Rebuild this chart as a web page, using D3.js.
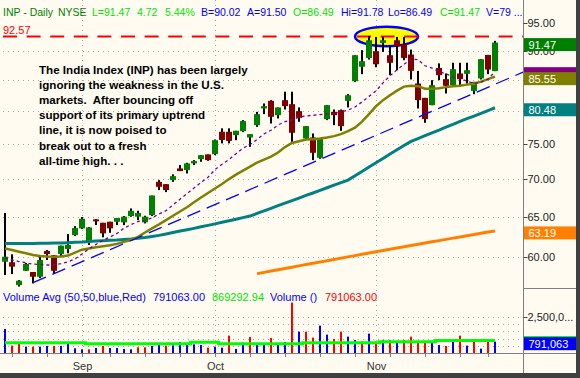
<!DOCTYPE html>
<html>
<head>
<meta charset="utf-8">
<script src="https://cdn.jsdelivr.net/npm/d3@7"></script>
<style>
  body { margin: 0; background: #fffbf0; }
  svg { display: block; font-family: "Liberation Sans", Arial, sans-serif; }
</style>
</head>
<body>
<div id="container"></div>
<script>
// INP daily, Aug 17 - Nov 27 2007
var dates = ['8/17','8/20','8/21','8/22','8/23','8/24','8/27','8/28','8/29','8/30','8/31',
    '9/4','9/5','9/6','9/7','9/10','9/11','9/12','9/13','9/14','9/17','9/18','9/19','9/20','9/21',
    '9/24','9/25','9/26','9/27','9/28',
    '10/1','10/2','10/3','10/4','10/5','10/8','10/9','10/10','10/11','10/12','10/15','10/16','10/17',
    '10/18','10/19','10/22','10/23','10/24','10/25','10/26','10/29','10/30','10/31',
    '11/1','11/2','11/5','11/6','11/7','11/8','11/9','11/12','11/13','11/14','11/15','11/16',
    '11/19','11/20','11/21','11/23','11/26','11/27'];

var open = [59.48, 59.42, 56.82, 58.43, 58.29, 57.75, 60.75, 60.24, 60.39, 60.99,
    62.68, 63.51, 61.86, 64.64, 64.21, 64.34, 64.34, 64.26, 65.06, 64.98,
    64.26, 65.19, 69.58, 69.27, 69.82, 71.44, 71.21, 72.15, 72.76, 73.43,
    73.48, 76.77, 76.77, 76.27, 76.87, 75.92, 77.78, 80.37, 81.58, 79.32,
    81.69, 81.05, 79.95, 75.77, 75.92, 72.95, 78.71, 79.84, 80.10, 81.58,
    84.79, 87.23, 88.75, 89.93, 91.41, 89.23, 91.89, 91.18, 89.35, 84.41,
    82.06, 80.89, 87.03, 85.13, 84.13, 86.09, 86.03, 83.19, 85.25, 89.28,
    86.49];
var high = [65.45, 60.35, 57.38, 59.33, 58.29, 60.25, 60.87, 60.27, 61.39, 62.80,
    63.79, 64.93, 63.67, 64.68, 64.21, 64.34, 64.81, 65.06, 66.04, 65.74,
    65.10, 67.74, 69.82, 69.27, 70.61, 71.91, 72.24, 72.62, 73.33, 73.43,
    75.62, 77.29, 77.29, 76.92, 78.55, 76.42, 79.83, 81.16, 81.69, 80.53,
    83.06, 83.06, 80.53, 77.63, 76.52, 75.77, 80.89, 80.21, 80.21, 82.66,
    89.23, 90.11, 92.62, 92.49, 92.49, 90.82, 92.49, 92.49, 90.23, 86.52,
    82.06, 84.96, 87.81, 86.09, 87.92, 87.92, 87.92, 84.68, 88.53, 89.28,
    91.78];
var low = [57.95, 58.06, 56.65, 58.40, 57.00, 57.60, 59.68, 58.17, 60.04, 60.47,
    62.56, 63.42, 61.47, 63.92, 62.40, 62.96, 63.92, 63.92, 64.98, 64.55,
    64.13, 65.06, 68.47, 68.20, 69.58, 71.07, 70.74, 71.91, 72.38, 72.52,
    73.33, 75.04, 75.04, 75.52, 76.72, 74.54, 77.52, 79.48, 78.03, 78.81,
    80.21, 75.27, 78.29, 75.52, 72.62, 72.81, 78.55, 77.78, 76.92, 80.53,
    84.68, 85.97, 88.47, 87.14, 89.81, 85.80, 86.64, 88.36, 85.08, 80.37,
    78.14, 80.89, 84.96, 82.77, 83.86, 84.13, 84.41, 82.66, 85.08, 85.97,
    86.49];
var close = [60.07, 58.91, 57.30, 59.22, 57.75, 59.68, 60.39, 58.43, 61.39, 61.47,
    63.55, 64.71, 63.63, 64.39, 62.89, 63.51, 64.81, 64.98, 65.74, 65.45,
    64.98, 67.74, 68.91, 68.47, 70.37, 71.07, 72.15, 72.48, 73.33, 72.62,
    75.52, 75.55, 75.41, 76.92, 78.40, 76.42, 79.48, 80.74, 79.06, 80.53,
    80.74, 76.62, 78.91, 77.63, 73.67, 75.77, 80.89, 79.32, 77.63, 82.49,
    89.23, 88.19, 91.89, 87.66, 91.89, 87.91, 90.82, 88.75, 86.53, 81.69,
    78.71, 84.13, 85.80, 84.03, 86.81, 85.13, 86.64, 84.68, 88.53, 86.75,
    91.47];

var volume = [1655000, 522000, 726000, 454000, 454000, 454000, 499000, 499000, 499000, 680000,
    340000, 272000, 272000, 363000, 499000, 363000, 363000, 295000, 272000, 408000,
    408000, 499000, 658000, 522000, 544000, 771000, 612000, 612000, 567000, 385000,
    454000, 385000, 1202000, 295000, 726000, 1111000, 658000, 612000, 1043000, 567000,
    771000, 3447000, 1474000, 1474000, 1066000, 1882000, 1270000, 975000, 1474000, 1134000,
    907000, 794000, 1338000, 726000, 907000, 907000, 839000, 907000, 1134000, 771000,
    726000, 748000, 567000, 499000, 862000, 1202000, 522000, 771000, 317000, 794000,
    791063];
var volumeAvg = [726000, 726000, 726000, 726000, 726000, 726000, 726000, 726000, 726000, 726000,
    726000, 726000, 658000, 658000, 658000, 658000, 658000, 658000, 658000, 658000,
    658000, 658000, 658000, 658000, 658000, 658000, 658000, 748000, 748000, 748000,
    748000, 658000, 658000, 658000, 658000, 658000, 658000, 658000, 658000, 658000,
    658000, 658000, 658000, 726000, 726000, 726000, 726000, 726000, 726000, 726000,
    726000, 726000, 726000, 726000, 794000, 794000, 794000, 794000, 794000, 794000,
    794000, 794000, 869292.94, 869292.94, 869292.94, 869292.94, 869292.94, 869292.94, 869292.94, 869292.94,
    869292.94];

// moving averages as drawn on the chart
var sma10 = [59.90, 59.70, 59.50, 59.35, 59.20, 59.15, 59.10, 59.10, 59.25, 59.46,
    59.81, 60.39, 61.02, 61.54, 62.05, 62.44, 62.88, 63.53, 63.97, 64.37,
    64.51, 64.81, 65.34, 65.75, 66.50, 67.25, 67.99, 68.74, 69.50, 70.21,
    71.27, 72.04, 72.69, 73.54, 74.34, 74.88, 75.61, 76.44, 77.01, 77.80,
    78.32, 78.60, 79.00, 79.20, 79.30, 79.40, 79.50, 79.60, 79.80, 80.10,
    80.60, 81.40, 82.30, 83.20, 84.50, 85.71, 86.70, 87.65, 88.54, 88.46,
    87.40, 87.00, 86.39, 86.03, 85.52, 85.24, 84.82, 84.42, 84.62, 85.11,
    86.39];
var sma20 = [61.05, 60.87, 60.66, 60.47, 60.27, 60.15, 60.09, 60.07, 60.09, 60.20,
    60.55, 60.90, 61.05, 61.20, 61.32, 61.44, 61.60, 61.85, 62.10, 62.45,
    63.00, 63.50, 64.00, 64.55, 65.10, 65.65, 66.20, 66.85, 67.47, 68.07,
    68.68, 69.30, 69.96, 70.58, 71.14, 71.70, 72.26, 72.69, 73.12, 73.70,
    74.50, 75.10, 75.37, 75.60, 75.67, 75.75, 75.90, 76.12, 76.42, 76.87,
    77.40, 78.32, 79.48, 80.73, 81.69, 82.49, 83.23, 83.89, 84.05, 83.97,
    83.56, 83.56, 83.64, 83.81, 83.97, 84.05, 84.22, 84.38, 84.71, 85.13,
    85.55];
var sma50 = [61.65, 61.65, 61.65, 61.65, 61.65, 61.67, 61.69, 61.71, 61.71, 61.75,
    61.80, 61.83, 61.89, 61.95, 61.99, 62.04, 62.07, 62.13, 62.19, 62.28,
    62.37, 62.50, 62.64, 62.80, 62.99, 63.17, 63.34, 63.51, 63.70, 63.88,
    64.07, 64.27, 64.46, 64.65, 64.86, 65.06, 65.40, 65.72, 66.06, 66.40,
    66.73, 67.06, 67.40, 67.75, 68.08, 68.43, 68.78, 69.13, 69.47, 69.82,
    70.41, 71.00, 71.63, 72.24, 72.86, 73.48, 74.10, 74.73, 75.34, 75.76,
    76.19, 76.62, 77.02, 77.46, 77.90, 78.34, 78.77, 79.16, 79.61, 80.04,
    80.48];
var sma200 = [null, null, null, null, null, null, null, null, null, null,
    null, null, null, null, null, null, null, null, null, null,
    null, null, null, null, null, null, null, null, null, null,
    null, null, null, null, null, null, 58.10, 58.25, 58.40, 58.55,
    58.70, 58.85, 59.00, 59.15, 59.30, 59.45, 59.60, 59.75, 59.90, 60.05,
    60.20, 60.35, 60.50, 60.65, 60.80, 60.95, 61.10, 61.25, 61.40, 61.55,
    61.70, 61.85, 62.00, 62.15, 62.30, 62.45, 62.60, 62.75, 62.90, 63.05,
    63.19];

var priceTicks = [60, 65, 70, 75, 80, 85, 90, 95];
var priceLabels = [60, 65, 70, 75, 90, 95];   // 80 and 85 sit under the value boxes
var volumeGrid = [500000, 1000000, 1500000, 2000000, 2500000];
var volumeLabels = [2500000];
var resistance = 92.57;
var trendline = [[4, 57.08], [74, 86.3]];  // [bar, price]
var bid = 90.02, ask = 91.50;
var note = ['The India Index (INP) has been largely',
    'ignoring the weakness in the U.S.',
    'markets.  After bouncing off',
    'support of its primary uptrend',
    'line, it is now poised to',
    'break out to a fresh',
    'all-time high. . .'];

var width = 580,
    height = 378,
    axisX = 523.5,
    n = close.length,
    f2 = d3.format('.2f'),
    lime = '#00e400',
    blue = '#0000ff';

var parseDay = d3.timeParse('%Y/%m/%d');
var days = dates.map(function(s) { return parseDay('2007/' + s); });

var svg = d3.select('#container')
    .append('svg')
    .attr('width', width)
    .attr('height', height);
svg.append('rect').attr('width', width).attr('height', height).attr('fill', '#fffbf0');

var x = d3.scaleLinear().domain([0, n - 1]).range([5, 5 + 7 * (n - 1)]);
var y = d3.scaleLog().domain([60, 95]).range([257.3, 23.3]);
var yv = d3.scaleLinear().domain([0, 2500000]).range([353.3, 316.55]);

svg.append('clipPath').attr('id', 'plotClip')
    .append('rect').attr('x', 0).attr('y', 0).attr('width', axisX).attr('height', 354);

var plot = svg.append('g').attr('clip-path', 'url(#plotClip)');

// grid
plot.selectAll('.hgrid')
    .data(priceTicks.filter(function(d) { return d < 95; }))
    .enter().append('line')
    .attr('x1', 3).attr('x2', axisX)
    .attr('y1', function(d) { return Math.round(y(d)) + 0.5; })
    .attr('y2', function(d) { return Math.round(y(d)) + 0.5; })
    .attr('stroke', '#a8a8a8').attr('stroke-dasharray', '1,4');
plot.selectAll('.vgrid')
    .data(volumeGrid)
    .enter().append('line')
    .attr('x1', 3).attr('x2', axisX)
    .attr('y1', function(d) { return Math.round(yv(d)) + 0.5; })
    .attr('y2', function(d) { return Math.round(yv(d)) + 0.5; })
    .attr('stroke', '#a8a8a8').attr('stroke-dasharray', '1,4');

var monthStarts = d3.range(1, n).filter(function(i) {
    return days[i].getMonth() !== days[i - 1].getMonth();
});
var weekStarts = d3.range(1, n).filter(function(i) {
    return days[i].getDay() < days[i - 1].getDay();
});
plot.selectAll('.mgrid')
    .data(monthStarts)
    .enter().append('line')
    .attr('x1', function(i) { return Math.round(x(i)) + 0.5; })
    .attr('x2', function(i) { return Math.round(x(i)) + 0.5; })
    .attr('y1', 0).attr('y2', 353)
    .attr('stroke', '#a8a8a8').attr('stroke-dasharray', '1,4');

// annotation: ellipse round the highs + resistance line
plot.append('ellipse')
    .attr('cx', (x(50) + x(59)) / 2)
    .attr('cy', y(resistance))
    .attr('rx', (x(59) - x(50)) / 2)
    .attr('ry', 9.7)
    .attr('fill', '#ffff00')
    .attr('stroke', blue)
    .attr('stroke-width', 2.5);
plot.append('line')
    .attr('x1', 3).attr('x2', axisX)
    .attr('y1', y(resistance)).attr('y2', y(resistance))
    .attr('stroke', '#ff0000').attr('stroke-width', 2)
    .attr('stroke-dasharray', '14,9.6');

// candles
var bars = d3.range(n);
plot.selectAll('.wick')
    .data(bars)
    .enter().append('rect')
    .attr('x', function(i) { return x(i) - 1; })
    .attr('width', 2)
    .attr('y', function(i) { return y(high[i]); })
    .attr('height', function(i) { return Math.max(1, y(low[i]) - y(high[i])); })
    .attr('fill', '#000');
plot.selectAll('.body')
    .data(bars)
    .enter().append('rect')
    .attr('x', function(i) { return x(i) - 3; })
    .attr('width', 6)
    .attr('y', function(i) { return y(Math.max(open[i], close[i])); })
    .attr('height', function(i) { return Math.max(1.5, Math.abs(y(open[i]) - y(close[i]))); })
    .attr('fill', function(i) { return close[i] >= open[i] ? '#008000' : '#800000'; });

// moving averages
var maLine = d3.line()
    .defined(function(d) { return d != null; })
    .x(function(d, i) { return x(i); })
    .y(function(d) { return y(d); });
plot.append('path').attr('d', maLine(sma50))
    .attr('fill', 'none').attr('stroke', '#008080').attr('stroke-width', 3);
plot.append('path').attr('d', maLine(sma200))
    .attr('fill', 'none').attr('stroke', '#ff8000').attr('stroke-width', 3);
plot.append('path').attr('d', maLine(sma20))
    .attr('fill', 'none').attr('stroke', '#808000').attr('stroke-width', 2.5);
plot.append('path').attr('d', maLine(sma10))
    .attr('fill', 'none').attr('stroke', '#800080').attr('stroke-width', 1.3)
    .attr('stroke-dasharray', '3,3');

// uptrend line
plot.append('line')
    .attr('x1', x(trendline[0][0])).attr('y1', y(trendline[0][1]))
    .attr('x2', x(trendline[1][0])).attr('y2', y(trendline[1][1]))
    .attr('stroke', blue).attr('stroke-width', 1.3)
    .attr('stroke-dasharray', '14,7');

// volume
plot.selectAll('.vol')
    .data(bars)
    .enter().append('rect')
    .attr('x', function(i) { return x(i) - 1; })
    .attr('width', 2)
    .attr('y', function(i) { return yv(volume[i]); })
    .attr('height', function(i) { return yv(0) - yv(volume[i]); })
    .attr('fill', function(i) { return i === 0 || close[i] >= close[i - 1] ? blue : '#ff0000'; });
plot.append('path')
    .attr('d', d3.line()
        .x(function(d, i) { return x(i); })
        .y(function(d) { return yv(d); })
        .curve(d3.curveStep)(volumeAvg))
    .attr('fill', 'none').attr('stroke', '#00ff00').attr('stroke-width', 3);

// texts in the plot
svg.append('text')
    .attr('x', 3).attr('y', y(resistance) - 2)
    .attr('fill', '#ff0000').attr('font-size', 11)
    .text(f2(resistance));

svg.append('g').selectAll('text')
    .data(note)
    .enter().append('text')
    .attr('x', 39)
    .attr('y', function(d, i) { return 74 + i * 15.1; })
    .attr('font-size', 11.6).attr('font-weight', 'bold')
    .style('white-space', 'pre')
    .attr('fill', '#000')
    .text(function(d) { return d; });

var last = n - 1,
    change = close[last] - close[last - 1];
var header = [
    { t: 'INP - Daily', x: 3, c: '#008000' },
    { t: 'NYSE', x: 58, c: '#008000' },
    { t: 'L=' + f2(close[last]), x: 92, c: lime },
    { t: f2(change), x: 137, c: lime },
    { t: f2(change / close[last - 1] * 100) + '%', x: 165, c: lime },
    { t: 'B=' + f2(bid), x: 201, c: blue },
    { t: 'A=' + f2(ask), x: 247, c: blue },
    { t: 'O=' + f2(open[last]), x: 293, c: lime },
    { t: 'Hi=' + f2(high[last]), x: 341, c: blue },
    { t: 'Lo=' + f2(low[last]), x: 388, c: blue },
    { t: 'C=' + f2(close[last]), x: 440, c: lime },
    { t: 'V=79 ...', x: 486, c: blue }
];
svg.append('g').selectAll('text')
    .data(header)
    .enter().append('text')
    .attr('x', function(d) { return d.x; })
    .attr('y', 16)
    .attr('font-size', 10.5)
    .attr('fill', function(d) { return d.c; })
    .text(function(d) { return d.t; });

var volHeader = [
    { t: 'Volume Avg (50,50,blue,Red)', x: 3, c: blue },
    { t: d3.format('.2f')(volume[last]), x: 153, c: blue },
    { t: d3.format('.2f')(volumeAvg[last]), x: 212, c: lime },
    { t: 'Volume ()', x: 270, c: blue },
    { t: d3.format('.2f')(volume[last]), x: 325, c: '#ff0000' }
];
svg.append('g').selectAll('text')
    .data(volHeader)
    .enter().append('text')
    .attr('x', function(d) { return d.x; })
    .attr('y', 301)
    .attr('font-size', 11)
    .attr('fill', function(d) { return d.c; })
    .text(function(d) { return d.t; });

// x axis
svg.append('line')
    .attr('x1', 0).attr('x2', 576).attr('y1', 353.5).attr('y2', 353.5)
    .attr('stroke', '#808080');
svg.selectAll('.wtick')
    .data(weekStarts)
    .enter().append('line')
    .attr('x1', function(i) { return Math.round(x(i)) + 0.5; })
    .attr('x2', function(i) { return Math.round(x(i)) + 0.5; })
    .attr('y1', 353.5).attr('y2', 357)
    .attr('stroke', '#808080');
svg.selectAll('.mlabel')
    .data(monthStarts)
    .enter().append('text')
    .attr('x', function(i) { return x(i) + 0.5; })
    .attr('y', 369.5)
    .attr('text-anchor', 'middle')
    .attr('font-size', 11)
    .attr('fill', '#333')
    .text(function(i) { return d3.timeFormat('%b')(days[i]); });

// right axis
svg.append('line')
    .attr('x1', axisX).attr('x2', axisX).attr('y1', 0).attr('y2', 373)
    .attr('stroke', '#808080');
svg.append('line')
    .attr('x1', axisX).attr('x2', 576).attr('y1', 288.5).attr('y2', 288.5)
    .attr('stroke', '#808080');
svg.append('g').selectAll('line')
    .data(priceTicks)
    .enter().append('line')
    .attr('x1', axisX).attr('x2', axisX + 4)
    .attr('y1', function(d) { return Math.round(y(d)) + 0.5; })
    .attr('y2', function(d) { return Math.round(y(d)) + 0.5; })
    .attr('stroke', '#444');
svg.append('g').selectAll('text')
    .data(priceLabels)
    .enter().append('text')
    .attr('x', axisX + 4)
    .attr('y', function(d) { return Math.round(y(d)) + 0.5; })
    .attr('dy', '0.35em')
    .attr('font-size', 11).attr('fill', '#222')
    .text(function(d) { return f2(d); });
var vy = svg.append('g').selectAll('g')
    .data(volumeLabels)
    .enter().append('g')
    .attr('transform', function(d) { return 'translate(0,' + (Math.round(yv(d)) + 0.5) + ')'; });
vy.append('line').attr('x1', axisX).attr('x2', axisX + 4).attr('stroke', '#444');
vy.append('text').attr('x', axisX + 4).attr('dy', '0.35em')
    .attr('font-size', 11).attr('fill', '#222')
    .text(function(d) { return d3.format(',')(d).slice(0, 7) + '...'; });

// last-value boxes (the purple and light-green ones sit behind others)
function valueBox(cy, label, fill) {
    svg.append('rect')
        .attr('x', axisX + 0.5).attr('y', cy - 6.5 + 2)
        .attr('width', 576 - axisX - 0.5).attr('height', 13)
        .attr('fill', fill);
    if (label) {
        svg.append('text')
            .attr('x', axisX + 5).attr('y', cy + 2).attr('dy', '0.36em')
            .attr('font-size', 11).attr('fill', '#fff')
            .text(label);
    }
}
valueBox(y(sma10[last]), null, '#800080');
valueBox(y(sma20[last]), f2(sma20[last]), '#808000');
valueBox(y(close[last]), f2(close[last]), '#008000');
valueBox(y(sma50[last]), f2(sma50[last]), '#008080');
valueBox(y(sma200[last]), f2(sma200[last]), '#ff8000');
valueBox(yv(volumeAvg[last]), null, '#00ff00');
valueBox(yv(volume[last]), d3.format(',')(volume[last]), '#0000ff');

// frame
svg.append('rect').attr('x', 576).attr('y', 0).attr('width', 4).attr('height', height).attr('fill', '#404040');
svg.append('rect').attr('x', 0).attr('y', 373).attr('width', width).attr('height', 5).attr('fill', '#404040');
</script>
</body>
</html>
